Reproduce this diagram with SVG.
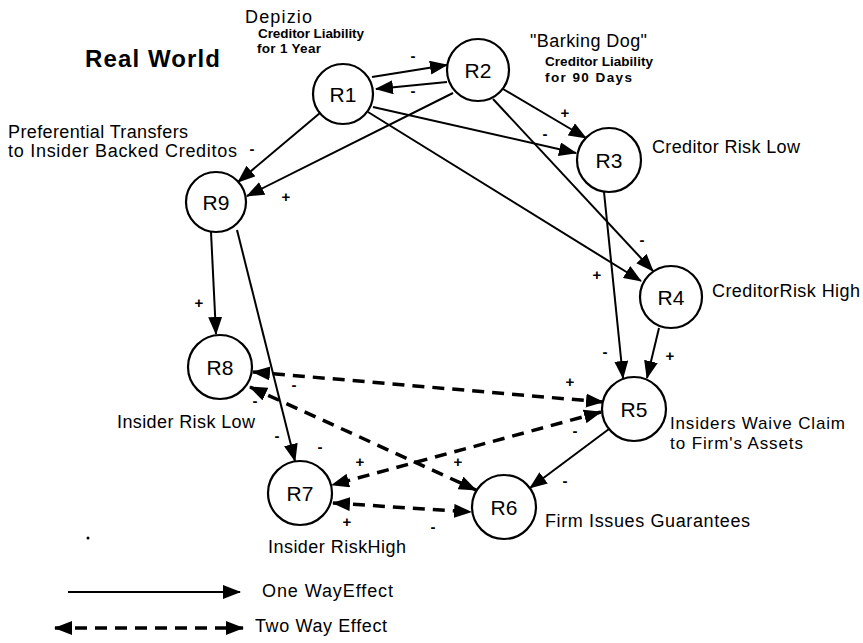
<svg xmlns="http://www.w3.org/2000/svg" width="863" height="643" viewBox="0 0 863 643">
<defs>
<marker id="ah" markerUnits="userSpaceOnUse" markerWidth="18" markerHeight="14" refX="17" refY="7" orient="auto-start-reverse" viewBox="0 0 18 14">
<path d="M0,0 L18,7 L0,14 z" fill="#000"/>
</marker>
<style>
.node circle{fill:#fff;stroke:#000;stroke-width:2.2}
.node text{font-family:"Liberation Sans",Arial,sans-serif;font-size:21px;text-anchor:middle;fill:#000}
.one{stroke:#000;stroke-width:2;fill:none;marker-end:url(#ah)}
.two{stroke:#000;stroke-width:3.5;fill:none;stroke-dasharray:12 8;marker-start:url(#ah);marker-end:url(#ah)}
.lbl{font-family:"Liberation Sans",Arial,sans-serif;font-size:18px;fill:#000}
.title{font-family:"Liberation Sans",Arial,sans-serif;font-size:24px;font-weight:bold;fill:#000}
.sm{font-family:"Liberation Sans",Arial,sans-serif;font-size:13.5px;font-weight:bold;fill:#000}
.sg{font-family:"Liberation Sans",Arial,sans-serif;font-size:15px;font-weight:bold;text-anchor:middle;fill:#000}
</style>
</defs>
<rect width="863" height="643" fill="#fff"/>

<g id="connectors">
<line class="one" x1="372" y1="77" x2="447" y2="65"/>
<line class="one" x1="447" y1="82" x2="376" y2="89"/>
<line class="one" x1="320" y1="113" x2="238" y2="182"/>
<line class="one" x1="453" y1="93" x2="247" y2="196"/>
<line class="one" x1="373" y1="107" x2="576" y2="153"/>
<line class="one" x1="368" y1="112" x2="641" y2="281"/>
<line class="one" x1="503" y1="89" x2="586" y2="138"/>
<line class="one" x1="493" y1="99" x2="653" y2="271"/>
<line class="one" x1="604" y1="192" x2="623" y2="378"/>
<line class="one" x1="659" y1="328" x2="647" y2="378"/>
<line class="one" x1="609" y1="429" x2="530" y2="488"/>
<line class="one" x1="211" y1="232" x2="216" y2="334"/>
<line class="one" x1="237" y1="230" x2="295" y2="461"/>
<line class="two" x1="253" y1="372" x2="603" y2="402"/>
<line class="two" x1="250" y1="387" x2="476" y2="490"/>
<line class="two" x1="601" y1="412" x2="332" y2="485"/>
<line class="two" x1="333" y1="503" x2="471" y2="512"/>
</g>

<g id="signs">
<text class="sg" x="413" y="61">-</text>
<text class="sg" x="413" y="96">-</text>
<text class="sg" x="252" y="154">-</text>
<text class="sg" x="286" y="202">+</text>
<text class="sg" x="545" y="139">-</text>
<text class="sg" x="565" y="118">+</text>
<text class="sg" x="597" y="280">+</text>
<text class="sg" x="642" y="245">-</text>
<text class="sg" x="605" y="357">-</text>
<text class="sg" x="670" y="361">+</text>
<text class="sg" x="565" y="486">-</text>
<text class="sg" x="199" y="308">+</text>
<text class="sg" x="277" y="441">-</text>
<text class="sg" x="320" y="452">-</text>
<text class="sg" x="570" y="387">+</text>
<text class="sg" x="294" y="390">-</text>
<text class="sg" x="255" y="406">-</text>
<text class="sg" x="458" y="467">+</text>
<text class="sg" x="575" y="436">-</text>
<text class="sg" x="360" y="467">+</text>
<text class="sg" x="347" y="527">+</text>
<text class="sg" x="433" y="532">-</text>
</g>

<g id="R1" class="node"><circle cx="343" cy="94" r="30"/><text x="343" y="102">R1</text></g>
<g id="R2" class="node"><circle cx="478" cy="70" r="31"/><text x="478" y="78">R2</text></g>
<g id="R3" class="node"><circle cx="609" cy="160" r="32"/><text x="609" y="168">R3</text></g>
<g id="R4" class="node"><circle cx="671" cy="297" r="31"/><text x="671" y="305">R4</text></g>
<g id="R5" class="node"><circle cx="634" cy="409" r="32"/><text x="634" y="417">R5</text></g>
<g id="R6" class="node"><circle cx="504" cy="507" r="32"/><text x="504" y="515">R6</text></g>
<g id="R7" class="node"><circle cx="300" cy="493" r="32"/><text x="300" y="501">R7</text></g>
<g id="R8" class="node"><circle cx="220" cy="367" r="32"/><text x="220" y="375">R8</text></g>
<g id="R9" class="node"><circle cx="216" cy="202" r="30"/><text x="216" y="210">R9</text></g>

<g id="labels">
<text class="title" x="85" y="67" textLength="135">Real World</text>
<text class="lbl" x="245" y="23" textLength="67">Depizio</text>
<text class="sm" x="258" y="38" textLength="106">Creditor Liability</text>
<text class="sm" x="257" y="53" textLength="64">for 1 Year</text>
<text class="lbl" x="530" y="47" textLength="117">"Barking Dog"</text>
<text class="sm" x="545" y="66" textLength="108">Creditor Liability</text>
<text class="sm" x="545" y="82" textLength="87">for 90 Days</text>
<text class="lbl" x="8" y="138" textLength="180">Preferential Transfers</text>
<text class="lbl" x="8" y="157" textLength="229">to Insider Backed Creditos</text>
<text class="lbl" x="652" y="153" textLength="148">Creditor Risk Low</text>
<text class="lbl" x="712" y="297" textLength="148">CreditorRisk High</text>
<text class="lbl" x="670" y="429" style="font-size:17px" textLength="175">Insiders Waive Claim</text>
<text class="lbl" x="670" y="449" style="font-size:17px" textLength="133">to Firm's Assets</text>
<text class="lbl" x="545" y="527" textLength="205">Firm Issues Guarantees</text>
<text class="lbl" x="117" y="428" textLength="138">Insider Risk Low</text>
<text class="lbl" x="268" y="553" textLength="138">Insider RiskHigh</text>
</g>

<g id="legend">
<line class="one" x1="68" y1="592" x2="240" y2="592"/>
<text class="lbl" x="262" y="597" textLength="131">One WayEffect</text>
<line class="two" x1="55" y1="628" x2="243" y2="628"/>
<text class="lbl" x="255" y="632" textLength="132">Two Way Effect</text>
<circle cx="88" cy="538" r="1.5" fill="#000"/>
</g>
</svg>
